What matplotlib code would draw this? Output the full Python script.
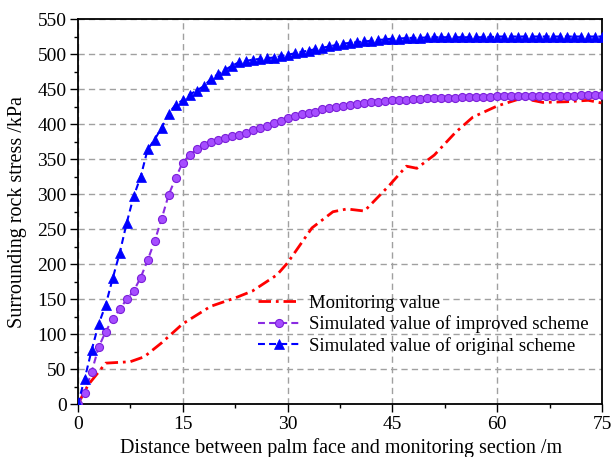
import matplotlib
matplotlib.use("Agg")
import matplotlib.pyplot as plt
import numpy as np
from matplotlib.ticker import MultipleLocator

# distance from the palm face (m)
dist_sim = np.arange(0, 76)

# simulated value of original scheme (kPa), one per metre
original = [
    0, 37, 78, 115, 142, 180, 216, 259, 297, 325,
    364, 378, 395, 415, 428, 434, 442, 448, 454, 464,
    471, 477, 483, 488, 490, 492, 493, 494, 495, 497,
    499, 501, 503, 505, 507, 509, 511, 513, 515, 516,
    517, 518, 519, 520, 521, 522, 522, 523, 523, 523,
    524, 524, 524, 524, 524, 524, 524, 524, 524, 524,
    525, 525, 525, 525, 525, 525, 525, 525, 525, 525,
    525, 525, 525, 525, 525, 525,
]

# simulated value of improved scheme (kPa), one per metre
improved = [
    0, 17, 47, 82, 104, 122, 136, 150, 162, 181,
    206, 233, 265, 299, 323, 345, 356, 364, 370, 374,
    377, 380, 383, 385, 387, 391, 395, 398, 402, 405,
    409, 411, 414, 416, 418, 421, 423, 425, 426, 427,
    429, 430, 431, 432, 433, 434, 434, 435, 436, 436,
    437, 437, 438, 438, 438, 439, 439, 439, 439, 439,
    440, 440, 440, 440, 440, 440, 440, 440, 440, 440,
    440, 440, 441, 441, 441, 441,
]

# field monitoring
dist_mon = [0, 1.5, 4, 7.5, 9.5, 12, 15, 19, 22.5, 25, 28.5, 30, 33.5, 36.5,
            38.5, 41, 44.5, 47, 48.5, 51, 54, 56.5, 60, 63.5, 66.5, 70, 73, 75]
monitoring = [0, 28, 59, 61, 68, 88, 115, 140, 152, 162, 185, 202, 252, 275,
              279, 276, 312, 340, 337, 356, 388, 410, 426, 437, 431, 432, 434, 430]

plt.rcParams["font.family"] = ["Liberation Serif", "DejaVu Serif"]
plt.rcParams["lines.scale_dashes"] = False

fig = plt.figure(figsize=(6.13, 4.57), dpi=100)
ax = fig.add_axes([0.1268, 0.1149, 0.8556, 0.8435])

ax.plot(dist_mon, monitoring, color="#ff0000", lw=2.0, dashes=(9, 3.5, 2, 3.5),
        label="Monitoring value", zorder=3)
ax.plot(dist_sim, improved, color="#8a2be2", lw=1.5, dashes=(5, 3),
        marker="o", markersize=5.8, markerfacecolor="#a64dff",
        markeredgecolor="#7a1fd9", markeredgewidth=0.8,
        label="Simulated value of improved scheme", zorder=4)
ax.plot(dist_sim, original, color="#0000ff", lw=1.5, dashes=(5, 3),
        marker="^", markersize=6.5, markerfacecolor="#0000ff",
        markeredgecolor="#0000ff", markeredgewidth=0.5,
        label="Simulated value of original scheme", zorder=5)

ax.set_xlim(0, 75)
ax.set_ylim(0, 550)
ax.xaxis.set_major_locator(MultipleLocator(15))
ax.xaxis.set_minor_locator(MultipleLocator(7.5))
ax.yaxis.set_major_locator(MultipleLocator(50))
ax.yaxis.set_minor_locator(MultipleLocator(25))

ax.grid(True, which="major", color="#a0a0a0", lw=1.0, dashes=(4.5, 3))
ax.tick_params(which="major", direction="out", length=5.5, width=1.0,
               labelsize=14, pad=2.5)
ax.tick_params(which="minor", direction="out", length=3, width=1.0)
for sp in ax.spines.values():
    sp.set_linewidth(1.3)

ax.set_xlabel("Distance between palm face and monitoring section /m", fontsize=14.5)
ax.set_ylabel("Surrounding rock stress /kPa", fontsize=14.5)
ax.xaxis.set_label_coords(0.503, -0.087)
ax.yaxis.set_label_coords(-0.097, 0.5)

ax.legend(loc="upper left", bbox_to_anchor=(0.344, 0.285), frameon=False,
          fontsize=13.5, handlelength=2.25, handletextpad=0.45,
          labelspacing=0.2, borderpad=0, borderaxespad=0)

fig.savefig("out.png", dpi=100)
